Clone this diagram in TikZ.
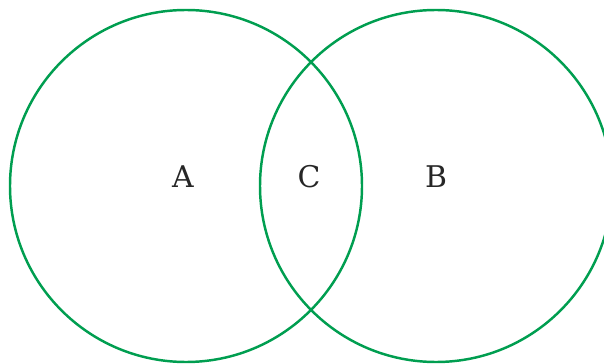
\documentclass[tikz,border=0pt]{standalone}
\usepackage{fontspec}
\setmainfont{DejaVu Serif}
\usepackage{tikz}
\definecolor{VennGreen}{RGB}{0, 158, 80}

\begin{document}
\begin{tikzpicture}[x=0.02cm, y=-0.02cm,
    setline/.style={VennGreen, line width=1.4pt},
    setlabel/.style={font=\fontsize{17}{19}\selectfont, text=black!85}]
    \useasboundingbox (0,0) rectangle (604,364);

    % The two sets
    \draw[setline] (186,186) circle[radius=176];
    \draw[setline] (436,186) circle[radius=176];

    % Labels
    \node[setlabel] (setA) at (183,177) {A};
    \node[setlabel] (setC) at (309,177) {C};
    \node[setlabel] (setB) at (436,177) {B};
  \end{tikzpicture}
\end{document}
